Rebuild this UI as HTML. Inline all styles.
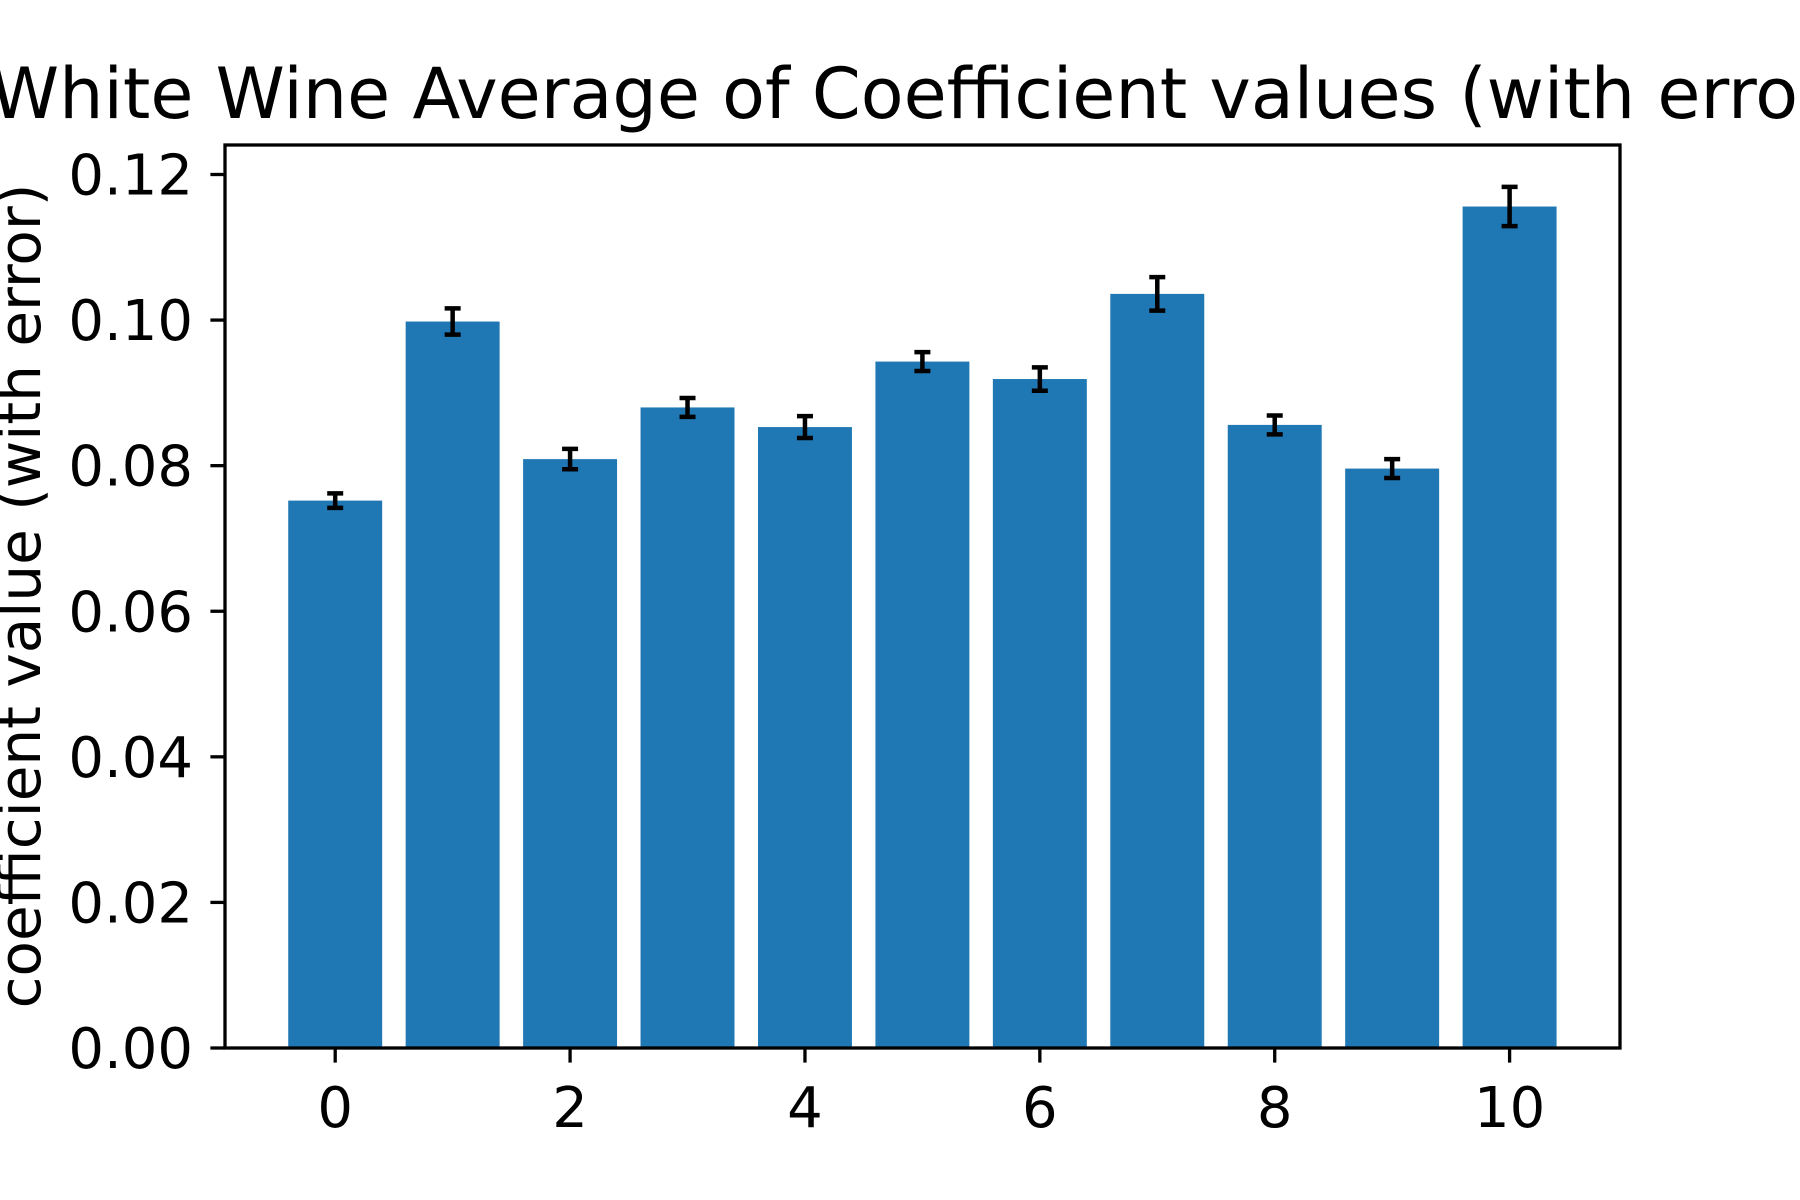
<!DOCTYPE html>
<html><head><meta charset="utf-8"><style>body{margin:0;background:#fff}svg{display:block}</style></head>
<body>
<svg id="chart" width="1800" height="1200" xmlns="http://www.w3.org/2000/svg" font-family="'DejaVu Sans','Liberation Sans',sans-serif">
<rect width="1800" height="1200" fill="#fff"/>
<g id="bars"></g>
<g id="errs"></g>
<g id="axes"></g>
<text x="922" y="118" font-size="70" text-anchor="middle" fill="#000">White Wine Average of Coefficient values (with error)</text>
<text transform="translate(40,596) rotate(-90)" font-size="58" text-anchor="middle" fill="#000">coefficient value (with error)</text>
</svg>
<script>
const categories=[0,1,2,3,4,5,6,7,8,9,10];
const values=[0.0752,0.0998,0.0809,0.0880,0.0853,0.0943,0.0919,0.1036,0.0856,0.0796,0.1156];
const errors=[0.0010,0.0018,0.0014,0.0013,0.0015,0.0013,0.0016,0.0023,0.0013,0.0013,0.0027];
const yTicks=[0,0.02,0.04,0.06,0.08,0.10,0.12];
const yTickLabels=["0.00","0.02","0.04","0.06","0.08","0.10","0.12"];
const xTicks=[0,2,4,6,8,10];
const L=225,R=1620,T=145,B=1048;
const x=v=>335.2+(v)*117.44;
const y=v=>1048-(v/0.12)*873.5;
const NS="http://www.w3.org/2000/svg";
function mk(t,a,p){const e=document.createElementNS(NS,t);for(const k in a)e.setAttribute(k,a[k]);p.appendChild(e);return e;}
const gb=document.getElementById('bars'),ge=document.getElementById('errs'),ga=document.getElementById('axes');
const bw=0.8*117.44;
categories.forEach((c,i)=>{
  const r=mk('rect',{x:x(c)-bw/2,y:y(values[i]),width:bw,height:y(0)-y(values[i]),fill:'#1f77b4'},gb);
  
  
  const g=mk('g',{stroke:'#000','stroke-width':4.5},ge);
  
  
  const lo=y(values[i]-errors[i]),hi=y(values[i]+errors[i]);
  mk('line',{x1:x(c),x2:x(c),y1:lo,y2:hi},g);
  mk('line',{x1:x(c)-8,x2:x(c)+8,y1:lo,y2:lo},g);
  mk('line',{x1:x(c)-8,x2:x(c)+8,y1:hi,y2:hi},g);
});
const fr=mk('rect',{x:L,y:T,width:R-L,height:B-T,fill:'none',stroke:'#000','stroke-width':3.3},ga);


yTicks.forEach((v,i)=>{
  mk('line',{x1:L-14.6,x2:L,y1:y(v),y2:y(v),stroke:'#000','stroke-width':3.3},ga);
  const t=mk('text',{x:L-32,y:y(v)+20,'font-size':56,'text-anchor':'end',fill:'#000'},ga);
  t.textContent=yTickLabels[i];
  
  
});
xTicks.forEach(v=>{
  mk('line',{x1:x(v),x2:x(v),y1:B,y2:B+14.6,stroke:'#000','stroke-width':3.3},ga);
  const t=mk('text',{x:x(v),y:B+79,'font-size':56,'text-anchor':'middle',fill:'#000'},ga);
  t.textContent=String(v);
  
  
});
</script>
</body></html>
